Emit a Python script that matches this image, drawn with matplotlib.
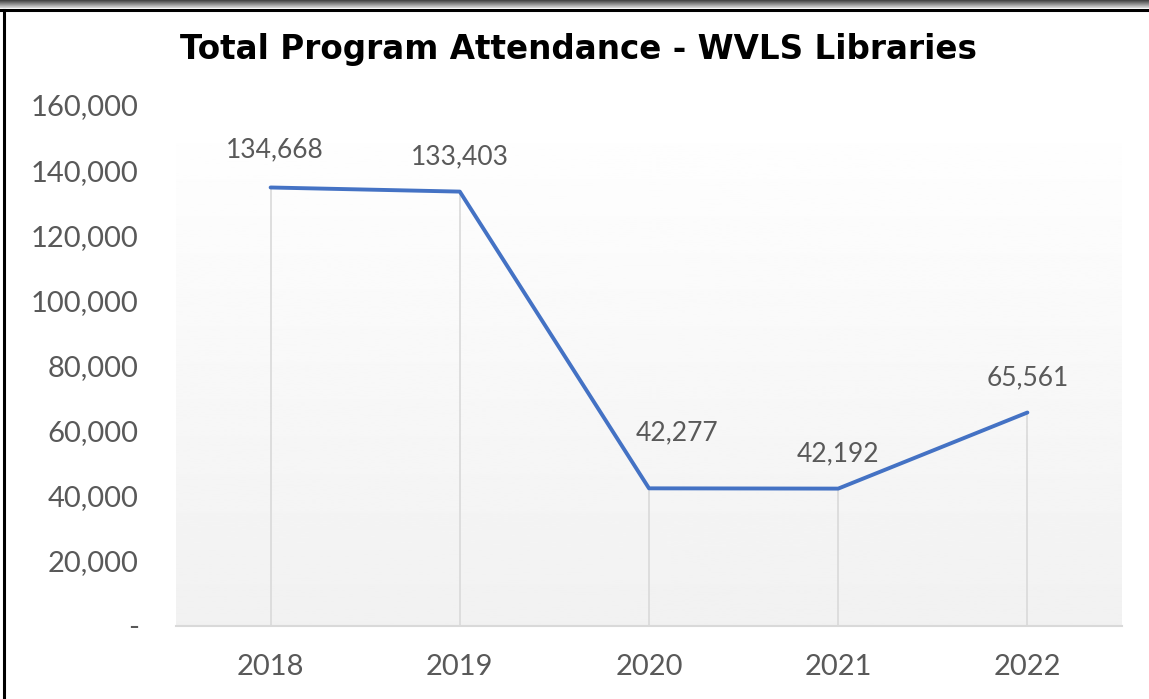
import matplotlib
matplotlib.use("Agg")
import matplotlib.pyplot as plt
import numpy as np
from matplotlib.lines import Line2D
from matplotlib.ticker import FuncFormatter

years = ["2018", "2019", "2020", "2021", "2022"]
attendance = [134668, 133403, 42277, 42192, 65561]
y_ticks = [0, 20000, 40000, 60000, 80000, 100000, 120000, 140000, 160000]

W, H = 1149, 699
fig = plt.figure(figsize=(W / 100, H / 100), dpi=100)
fig.patch.set_facecolor("white")

# window-like frame: gray band on top, black rules on top and left
band = np.linspace(0.25, 0.85, 20).reshape(-1, 1)
band_ax = fig.add_axes([0, 1 - 8 / H, 1, 8 / H])
band_ax.imshow(band, cmap="gray", vmin=0, vmax=1, aspect="auto", extent=[0, 1, 0, 1])
band_ax.axis("off")
fig.add_artist(Line2D([0, 1], [1 - 9.5 / H, 1 - 9.5 / H], transform=fig.transFigure,
                      color="black", lw=2.2))
fig.add_artist(Line2D([4 / W, 4 / W], [0, 1 - 9.5 / H], transform=fig.transFigure,
                      color="black", lw=2.2))

ax = fig.add_axes([176 / W, 1 - 626 / H, (1122 - 176) / W, (626 - 105) / H])
x = np.arange(len(years))

# vertical gradient fill of the plot area
grad = np.linspace(1.0, 0.945, 256).reshape(-1, 1)
ax.imshow(grad, cmap="gray", vmin=0, vmax=1, aspect="auto",
          extent=[0, 1, 0, 1], transform=ax.transAxes, zorder=0)

ax.vlines(x, 0, attendance, color="#d9d9d9", lw=1.2, zorder=1)
ax.plot(x, attendance, color="#4472c4", lw=2.8, solid_capstyle="round", zorder=3)

# label offsets in points (the 2020 label was nudged in the original)
label_offset = {0: (3, 27), 2: (20, 40)}
for i, v in enumerate(attendance):
    ax.annotate(f"{v:,}", (x[i], v), xytext=label_offset.get(i, (0, 25)),
                textcoords="offset points", ha="center", va="center",
                fontsize=19, color="#595959", family="Lato")

ax.set_xlim(-0.5, len(years) - 0.5)
ax.set_ylim(0, 160000)
ax.set_xticks(x)
ax.set_xticklabels(years)
ax.set_yticks(y_ticks)
ax.yaxis.set_major_formatter(FuncFormatter(lambda v, p: "-" if v == 0 else f"{v:,.0f}"))
for lab in ax.get_xticklabels() + ax.get_yticklabels():
    lab.set_family("Lato")
    lab.set_fontsize(21)
    lab.set_color("#595959")
ax.tick_params(axis="both", length=0)
ax.tick_params(axis="x", pad=20)
ax.tick_params(axis="y", pad=27)
for side in ("top", "right", "left"):
    ax.spines[side].set_visible(False)
ax.spines["bottom"].set_color("#d9d9d9")
ax.spines["bottom"].set_linewidth(1.5)

fig.text(578 / W, 1 - 50 / H, "Total Program Attendance - WVLS Libraries",
         ha="center", va="center", fontsize=23.5, fontweight="bold", color="black")

fig.savefig("out.png", dpi=100)
